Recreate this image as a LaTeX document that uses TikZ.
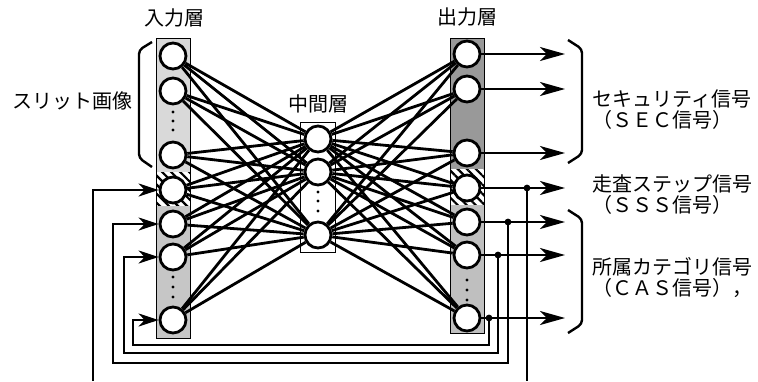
\documentclass[tikz,border=0pt]{standalone}
\usepackage{fontspec}
\newfontfamily\jpfont{Noto Sans CJK JP}
\usetikzlibrary{arrows.meta,patterns.meta}

\begin{document}
\begin{tikzpicture}[
x=0.5pt,y=-0.5pt,
neuron/.style={circle,draw,line width=1.4pt,fill=white,minimum size=13pt,inner sep=0pt},
link/.style={line width=1.4pt},
sigarrow/.style={-{Stealth[length=12.5pt,width=7pt,inset=3.5pt]},line width=1.1pt},
fbarrow/.style={-{Stealth[length=10pt,width=6.5pt,inset=3pt]},line width=1.1pt},
fbline/.style={line width=1.1pt},
hatch/.style={pattern={Lines[angle=-45,distance=3.2pt,line width=1.1pt]}},
layerlabel/.style={font=\jpfont\fontsize{10}{12}\selectfont,inner sep=0pt},
brace/.style={line width=1.2pt,rounded corners=2pt}
]
\useasboundingbox (0,0) rectangle (758,381);
% layer columns
\fill[gray!30] (156,38) rectangle (190,172);
\fill[white] (156,172) rectangle (190,206);
\fill[hatch] (156,172) rectangle (190,206);
\fill[gray!45] (156,206) rectangle (190,338);
\draw[line width=0.4pt] (156,38) rectangle (190,338);
\draw[line width=0.5pt] (300,122) rectangle (335,252);
\fill[gray!80] (450,38) rectangle (484,169);
\fill[white] (450,169) rectangle (484,205);
\fill[hatch] (450,169) rectangle (484,205);
\fill[gray!50] (450,205) rectangle (484,333);
\draw[line width=0.4pt] (450,38) rectangle (484,333);

% neurons
\node[neuron] (i1) at (173,56) {};
\node[neuron] (i2) at (173,91) {};
\node[neuron] (i3) at (173,155) {};
\node[neuron] (i4) at (173,190) {};
\node[neuron] (i5) at (173,224) {};
\node[neuron] (i6) at (173,257) {};
\node[neuron] (i7) at (173,320) {};
\node[neuron] (h1) at (318,139) {};
\node[neuron] (h2) at (318,172) {};
\node[neuron] (h3) at (318,235) {};
\node[neuron] (o1) at (467,54) {};
\node[neuron] (o2) at (467,89) {};
\node[neuron] (o3) at (467,153) {};
\node[neuron] (o4) at (467,188) {};
\node[neuron] (o5) at (467,222) {};
\node[neuron] (o6) at (467,255) {};
\node[neuron] (o7) at (467,318) {};
\foreach \y in {112,121,130,277,287,297} \fill (173,\y) circle (1.6);
\foreach \y in {192,201,211} \fill (318,\y) circle (1.6);
\foreach \y in {280,290,300} \fill (467,\y) circle (1.6);

% full connections
\foreach \a in {1,...,7} \foreach \b in {1,2,3} \draw[link] (i\a) -- (h\b);
\foreach \b in {1,2,3} \foreach \c in {1,...,7} \draw[link] (h\b) -- (o\c);

% output signals
\coordinate (tip) at (565,0);
\foreach \c in {1,...,7} \draw[sigarrow] (o\c) -- (o\c -| tip);

% feedback
\coordinate (j4) at (527,188); \coordinate (j5) at (508,222);
\coordinate (j6) at (498,255); \coordinate (j7) at (489,318);
\coordinate (b4) at (527,381); \coordinate (c4) at (93,381);
\coordinate (c5) at (113,363); \coordinate (c6) at (124,353); \coordinate (c7) at (133,345);
\foreach \k in {4,...,7} \fill (j\k) circle (3.4);
\draw[fbline] (j4) -- (b4);
\draw[fbarrow] (c4) |- (i4);
\draw[fbarrow] (j5) |- (c5) |- (i5);
\draw[fbarrow] (j6) |- (c6) |- (i6);
\draw[fbarrow] (j7) |- (c7) |- (i7);

% braces
\draw[brace] (152,42) -- (139,50) -- (139,158) -- (152,167);
\draw[brace] (568,40) -- (582,49) -- (582,154) -- (568,163);
\draw[brace] (568,210) -- (582,219) -- (582,324) -- (568,333);

% labels
\node[layerlabel] (inlab) at (174,18) {入力層};
\node[layerlabel] (hidlab) at (318,104) {中間層};
\node[layerlabel] (outlab) at (467,17) {出力層};
\node[layerlabel] (slit) at (72,101) {スリット画像};
\node[layerlabel,anchor=west] (sec) at (592,99) {セキュリティ信号};
\node[layerlabel,anchor=west] (secb) at (592,120) {（ＳＥＣ信号）};
\node[layerlabel,anchor=west] (sss) at (592,184) {走査ステップ信号};
\node[layerlabel,anchor=west] (sssb) at (592,205) {（ＳＳＳ信号）};
\node[layerlabel,anchor=west] (cas) at (592,267) {所属カテゴリ信号};
\node[layerlabel,anchor=west] (casb) at (592,288) {（ＣＡＳ信号），};
\end{tikzpicture}
\end{document}
